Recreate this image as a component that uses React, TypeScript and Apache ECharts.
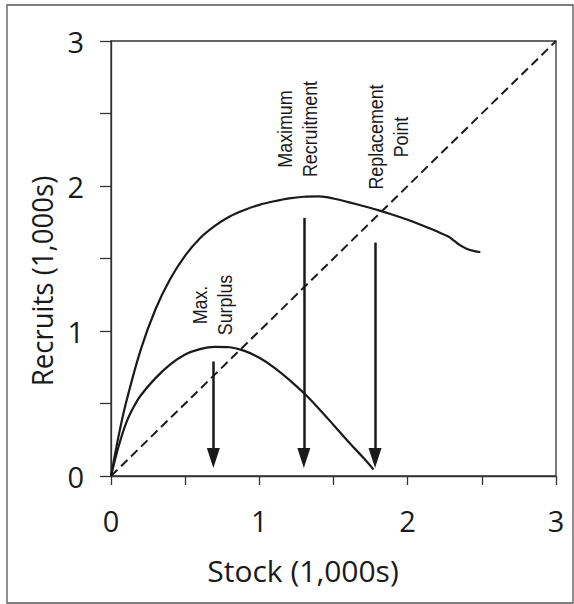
import { useEffect, useRef } from 'react';
import * as echarts from 'echarts';

// Tick labels (axes run 0..3, ticks every 0.5, labels only on integers)
const tickLabels = ['0', '1', '2', '3'];

// Recruitment curve (stock, recruits) in thousands
const recruitStock = [0, 0.05, 0.1, 0.2, 0.3, 0.4, 0.5, 0.6, 0.7, 0.8, 0.9, 1.0, 1.1, 1.2, 1.3, 1.4, 1.5, 1.6, 1.7, 1.8, 1.9, 2.0, 2.1, 2.2, 2.28, 2.31, 2.35, 2.4, 2.45, 2.49];
const recruitValues = [0, 0.27, 0.5, 0.87, 1.15, 1.36, 1.52, 1.64, 1.725, 1.79, 1.835, 1.87, 1.895, 1.915, 1.926, 1.928, 1.914, 1.889, 1.862, 1.834, 1.802, 1.767, 1.728, 1.686, 1.648, 1.625, 1.594, 1.566, 1.551, 1.545];

// Surplus curve (stock, surplus) in thousands
const surplusStock = [0, 0.05, 0.1, 0.15, 0.2, 0.3, 0.4, 0.5, 0.6, 0.7, 0.8, 0.9, 1.0, 1.1, 1.2, 1.3, 1.4, 1.5, 1.6, 1.7, 1.77];
const surplusValues = [0, 0.2, 0.36, 0.47, 0.555, 0.675, 0.77, 0.838, 0.875, 0.891, 0.888, 0.863, 0.815, 0.748, 0.665, 0.572, 0.466, 0.352, 0.237, 0.127, 0.045];

// Replacement line (recruits = stock)
const replacementStock = [0, 3];
const replacementValues = [0, 3];

// Vertical arrows: stock position, top of shaft, arrow end
const arrowStock = [0.69, 1.3, 1.78];
const arrowTop = [0.79, 1.78, 1.61];
const arrowEnd = 0.125;

// Annotation labels
const annotationTexts = ['Max.\nSurplus', 'Maximum\nRecruitment', 'Replacement\nPoint'];

const INK = '#1a1a1a';
const AXIS = '#333';

export default function App() {
  const ref = useRef<HTMLDivElement>(null);

  useEffect(() => {
    if (!ref.current) return;
    const chart = echarts.init(ref.current, null, { renderer: 'svg' });

    const zip = (xs: number[], ys: number[]) => xs.map((x, i) => [x, ys[i]]);

    const axisCommon = {
      type: 'value' as const,
      min: 0,
      max: 3,
      interval: 0.5,
      splitLine: { show: false },
      axisLine: { show: true, lineStyle: { color: AXIS, width: 1.3 } },
      axisLabel: {
        formatter: (v: number) => (Number.isInteger(v) ? tickLabels[v] : ''),
        fontFamily: 'Open Sans',
        fontSize: 29,
        color: INK,
      },
    };

    const annotationPos = [
      [212, 305],
      [297, 129],
      [388, 137],
    ];

    chart.setOption({
      animation: false,
      backgroundColor: '#fff',
      grid: {
        left: 111,
        top: 41,
        width: 445,
        height: 435,
        show: true,
        borderColor: AXIS,
        borderWidth: 1.3,
        backgroundColor: 'transparent',
      },
      xAxis: {
        ...axisCommon,
        axisTick: { show: true, length: 9, inside: false, lineStyle: { color: AXIS, width: 1.3 } },
        axisLabel: { ...axisCommon.axisLabel, margin: 30 },
      },
      yAxis: {
        ...axisCommon,
        axisTick: { show: true, length: 11, inside: false, lineStyle: { color: AXIS, width: 1.3 } },
        axisLabel: { ...axisCommon.axisLabel, margin: 27 },
      },
      series: [
        {
          type: 'line',
          data: zip(recruitStock, recruitValues),
          smooth: 0.3,
          showSymbol: false,
          silent: true,
          lineStyle: { color: INK, width: 2.2 },
        },
        {
          type: 'line',
          data: zip(surplusStock, surplusValues),
          smooth: 0.3,
          showSymbol: false,
          silent: true,
          lineStyle: { color: INK, width: 2.2 },
        },
        {
          type: 'line',
          data: zip(replacementStock, replacementValues),
          showSymbol: false,
          silent: true,
          lineStyle: { color: INK, width: 2, type: [9, 5] },
          markLine: {
            silent: true,
            symbol: ['none', 'triangle'],
            symbolSize: [13, 20],
            label: { show: false },
            lineStyle: { color: INK, width: 2.5, type: 'solid' },
            data: arrowStock.map((x, i) => [
              { coord: [x, arrowTop[i]] },
              { coord: [x, arrowEnd] },
            ]),
          },
        },
      ],
      graphic: [
        {
          type: 'rect',
          shape: { x: 7, y: 5, width: 566, height: 598 },
          style: { fill: 'none', stroke: '#555', lineWidth: 1.3 },
          silent: true,
        },
        {
          type: 'text',
          x: 41,
          y: 281,
          rotation: Math.PI / 2,
          scaleX: 0.92,
          style: {
            text: 'Recruits (1,000s)',
            font: '30px "Open Sans"',
            fill: INK,
            align: 'center',
            verticalAlign: 'middle',
          },
        },
        {
          type: 'text',
          x: 303,
          y: 570,
          style: {
            text: 'Stock (1,000s)',
            font: '30px "Open Sans"',
            fill: INK,
            align: 'center',
            verticalAlign: 'middle',
          },
        },
        ...annotationTexts.map((t, i) => ({
          type: 'text',
          x: annotationPos[i][0],
          y: annotationPos[i][1],
          rotation: Math.PI / 2,
          scaleX: 0.85,
          style: {
            text: t,
            font: '21px "Liberation Sans"',
            lineHeight: 25,
            fill: INK,
            align: 'center',
            verticalAlign: 'middle',
          },
        })),
      ],
    });

    return () => chart.dispose();
  }, []);

  return (
    <div
      ref={ref}
      style={{ position: 'absolute', left: 0, top: 0, width: 574, height: 604 }}
    />
  );
}
